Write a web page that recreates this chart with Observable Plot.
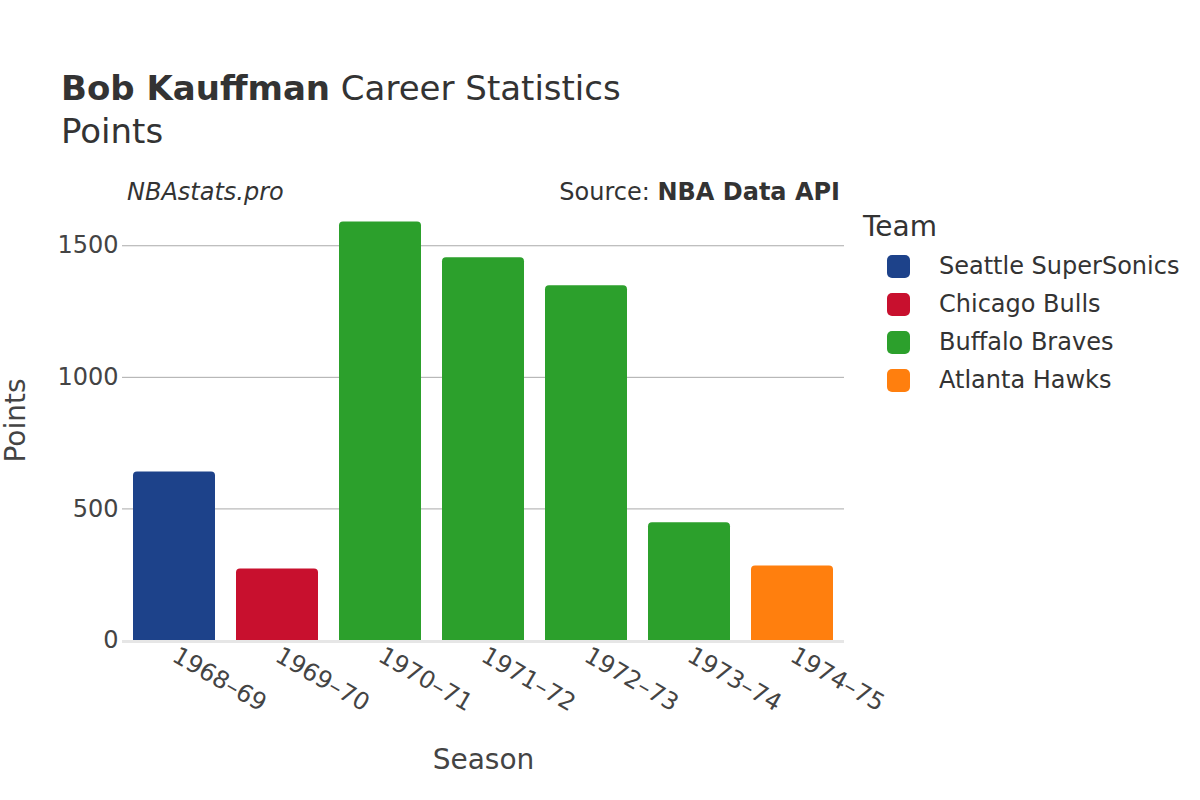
<!DOCTYPE html>
<html><head><meta charset="utf-8">
<script src="https://cdn.jsdelivr.net/npm/d3@7"></script>
<script src="https://cdn.jsdelivr.net/npm/@observablehq/plot@0.6"></script>
<style>
body{margin:0;background:#fff;font-family:"DejaVu Sans",sans-serif;color:#333}
#wrap{position:relative;width:1200px;height:800px;overflow:hidden;background:#fff}
#chart{position:absolute;left:0;top:0}
.t{position:absolute;white-space:nowrap;color:#333;line-height:1}
#legend{position:absolute;left:887px;top:247px}
.lg-swatches{font-family:"DejaVu Sans",sans-serif !important;font-size:24px !important;color:#333 !important;margin:0 !important;}
.lg-swatch{height:38px;margin:0 !important;padding:0 !important;display:flex;align-items:center;}
.lg-swatch svg{margin-right:29px !important;}
.lg-swatch rect{rx:5px;ry:5px;}
g[aria-label="x-axis label"], g[aria-label="y-axis label"]{font-size:28px;}
</style>
</head><body>
<div id="wrap">
  <div id="chart"></div>
  <div class="t" style="left:61px;top:71px;font-size:34px"><b>Bob Kauffman</b> Career Statistics</div>
  <div class="t" style="left:61px;top:114px;font-size:34px">Points</div>
  <div class="t" style="left:127px;top:180px;font-size:24px;font-style:italic">NBAstats.pro</div>
  <div class="t" style="right:360px;top:180px;font-size:24px">Source: <b>NBA Data API</b></div>
  <div class="t" style="left:863px;top:213px;font-size:28px">Team</div>
  <div id="legend"></div>
</div>
<script>
const seasons = ["1968–69","1969–70","1970–71","1971–72","1972–73","1973–74","1974–75"];
const seasonTeams = ["Seattle SuperSonics","Chicago Bulls","Buffalo Braves","Buffalo Braves","Buffalo Braves","Buffalo Braves","Atlanta Hawks"];
const points = [640, 272, 1590, 1454, 1348, 447, 283];
const teamOrder = ["Seattle SuperSonics","Chicago Bulls","Buffalo Braves","Atlanta Hawks"];
const teamColors = ["#1d428a","#c8102e","#2ca02c","#ff7f0e"];
const yTicks = [0, 500, 1000, 1500];
const gridTicks = [500, 1000, 1500];

const data = seasons.map((s, i) => ({season: s, team: seasonTeams[i], pts: points[i]}));

const chart = Plot.plot({
  width: 1200, height: 800,
  marginLeft: 122, marginRight: 356, marginTop: 200, marginBottom: 160,
  style: {fontFamily: "DejaVu Sans, sans-serif", color: "#333", background: "transparent"},
  x: {domain: seasons, paddingInner: 0.2, paddingOuter: 0.1},
  y: {domain: [0, 1672], labelArrow: "none"},
  color: {domain: teamOrder, range: teamColors},
  marks: [
    Plot.gridY(gridTicks, {stroke: "#aaa", strokeOpacity: 1, strokeWidth: 1}),
    Plot.barY(data, {x: "season", y: "pts", fill: "team", rx: 4, insetBottom: -6, clip: true}),
    Plot.ruleY([0], {stroke: "#e6e6e6", strokeWidth: 3, dy: 1}),
    Plot.axisY(yTicks, {tickSize: 0, tickPadding: 4, fontSize: 24, fill: "#444", tickFormat: d => String(d),
      label: "Points", labelArrow: "none", labelAnchor: "center", labelOffset: 117}),
    Plot.axisX({tickSize: 0, tickPadding: 13, tickRotate: 30, fontSize: 24, fill: "#444",
      label: "Season", labelArrow: "none", labelAnchor: "center", labelOffset: 128})
  ]
});
document.getElementById("chart").appendChild(chart);

const leg = Plot.legend({color: {domain: teamOrder, range: teamColors}, legend: "swatches",
  columns: 1, swatchSize: 23, className: "lg"});
document.getElementById("legend").appendChild(leg);
</script>
</body></html>
